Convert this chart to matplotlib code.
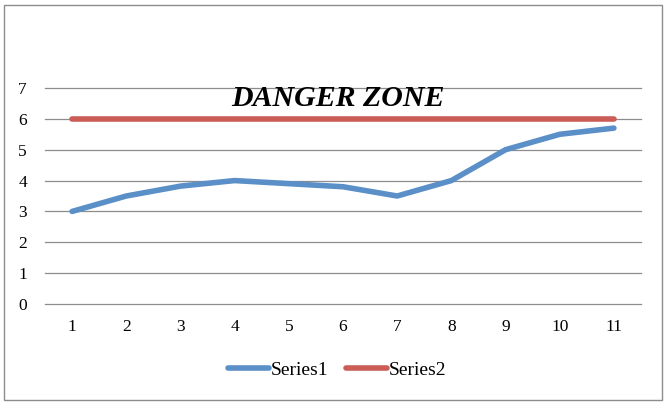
import matplotlib
matplotlib.use("Agg")
import matplotlib.pyplot as plt
from matplotlib.patches import Rectangle

# category labels and the two series
categories = [1, 2, 3, 4, 5, 6, 7, 8, 9, 10, 11]
series1 = [3.0, 3.5, 3.82, 4.0, 3.9, 3.8, 3.5, 4.0, 5.0, 5.5, 5.7]
series2 = [6, 6, 6, 6, 6, 6, 6, 6, 6, 6, 6]
yticks = [0, 1, 2, 3, 4, 5, 6, 7]

BLUE = '#5A8FC8'
RED = '#CB5C56'
FONT = 'Liberation Serif'

fig = plt.figure(figsize=(6.67, 4.05), dpi=100)
ax = fig.add_axes([45/667, 101/405, 596/667, 216/405])

xs = list(range(len(categories)))
ax.plot(xs, series1, color=BLUE, lw=4, solid_capstyle='round', label='Series1', zorder=3)
ax.plot(xs, series2, color=RED, lw=4, solid_capstyle='round', label='Series2', zorder=3)

ax.set_xlim(-0.5, len(categories) - 0.5)
ax.set_ylim(0, 7)
ax.set_yticks(yticks)
ax.set_xticks(xs)
ax.set_xticklabels([str(c) for c in categories])
ax.grid(axis='y', color='#8c8c8c', lw=0.9)
for gl in ax.get_ygridlines():
    gl.set_clip_on(False)
ax.set_axisbelow(True)
for s in ax.spines.values():
    s.set_visible(False)
ax.tick_params(length=0, labelsize=12.5, pad=11)
ax.tick_params(axis='y', pad=13)
for lbl in ax.get_xticklabels() + ax.get_yticklabels():
    lbl.set_fontfamily(FONT)

fig.text(338/667, 1 - 98/405, 'DANGER ZONE', ha='center', va='center',
         fontsize=21.5, fontweight='bold', fontstyle='italic', family=FONT)

leg = fig.legend(loc='center', bbox_to_anchor=(337/667, 1 - 370/405), ncol=2,
                 frameon=False, prop={'family': FONT, 'size': 14},
                 handlelength=2.1, handletextpad=0.1, columnspacing=0.9)

fig.patches.append(Rectangle((4/667, 5/405), 658/667, 395/405, transform=fig.transFigure,
                             fill=False, edgecolor='#8c8c8c', lw=1))

fig.savefig('out.png', dpi=100)
